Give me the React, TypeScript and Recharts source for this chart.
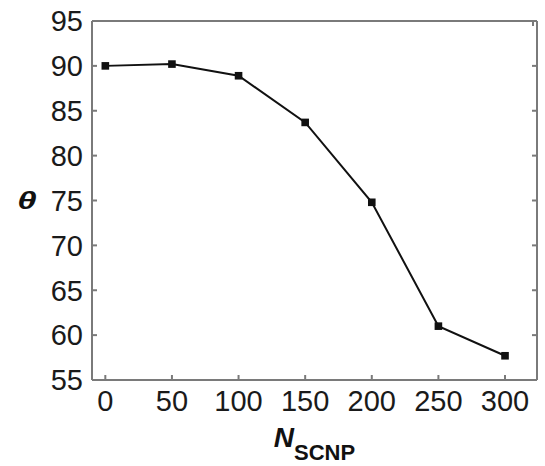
import React from 'react';
import { LineChart, Line, XAxis, YAxis, Label } from 'recharts';

// Contact angle θ versus number of SCNP
const nValues = [0, 50, 100, 150, 200, 250, 300];
const thetaValues = [90.0, 90.2, 88.9, 83.7, 74.8, 61.0, 57.7];
const xTicks = [0, 50, 100, 150, 200, 250, 300];
const yTicks = [55, 60, 65, 70, 75, 80, 85, 90, 95];

const data = nValues.map((n, i) => ({ n, theta: thetaValues[i] }));

const FONT = '"Liberation Sans", Arial, sans-serif';
const AXIS_COLOR = '#7a7a7a';
const TEXT_COLOR = '#1a1a1a';
const TICK_LEN = 5;
const LABEL_SIZE = 29;
const X_MARGIN = 10;
const Y_MARGIN = 9;

const axisLine = { stroke: AXIS_COLOR, strokeWidth: 2 };

// Inward tick marks, drawn from the position the axis hands to each tick
const BottomTick = (p: any) => {
  const axisY = p.y - X_MARGIN;
  return (
    <g>
      <line x1={p.x} x2={p.x} y1={axisY} y2={axisY - TICK_LEN} stroke={AXIS_COLOR} strokeWidth={2} />
      <text
        x={p.x}
        y={p.y}
        dy="0.71em"
        textAnchor="middle"
        fontFamily={FONT}
        fontSize={LABEL_SIZE}
        fill={TEXT_COLOR}
      >
        {p.payload.value}
      </text>
    </g>
  );
};

const LeftTick = (p: any) => {
  const axisX = p.x + Y_MARGIN;
  return (
    <g>
      <line x1={axisX} x2={axisX + TICK_LEN} y1={p.y} y2={p.y} stroke={AXIS_COLOR} strokeWidth={2} />
      <text
        x={p.x}
        y={p.y}
        dy="0.355em"
        textAnchor="end"
        fontFamily={FONT}
        fontSize={LABEL_SIZE}
        fill={TEXT_COLOR}
      >
        {p.payload.value}
      </text>
    </g>
  );
};

const TopTick = (p: any) => (
  <line x1={p.x} x2={p.x} y1={p.y} y2={p.y + TICK_LEN} stroke={AXIS_COLOR} strokeWidth={2} />
);

const RightTick = (p: any) => (
  <line x1={p.x} x2={p.x - TICK_LEN} y1={p.y} y2={p.y} stroke={AXIS_COLOR} strokeWidth={2} />
);

const SquareDot = (p: any) => (
  <rect
    key={`dot-${p.index}`}
    x={p.cx - 3.8}
    y={p.cy - 3.8}
    width={7.6}
    height={7.6}
    fill="#111"
  />
);

const XTitle = (props: any) => {
  const { viewBox } = props;
  const cx = viewBox.x + viewBox.width / 2;
  return (
    <text
      x={cx}
      y={viewBox.y + 67}
      textAnchor="middle"
      fontFamily={FONT}
      fontWeight="bold"
      fill="#111"
    >
      <tspan fontStyle="italic" fontSize={28}>N</tspan>
      <tspan fontSize={22} dy={13}>SCNP</tspan>
    </text>
  );
};

const YTitle = (props: any) => {
  const { viewBox } = props;
  const cy = viewBox.y + viewBox.height / 2;
  return (
    <text
      transform={`translate(27 ${cy}) scale(1.45 1)`}
      x={0}
      y={0}
      textAnchor="middle"
      dominantBaseline="central"
      fontFamily={FONT}
      fontWeight="bold"
      fontStyle="italic"
      fontSize={24}
      fill="#111"
    >
      θ
    </text>
  );
};

export default function App() {
  return (
    <div style={{ position: 'absolute', left: 0, top: 0, background: '#fff' }}>
      <LineChart
        width={545}
        height={466}
        data={data}
        margin={{ top: 20, right: 7, bottom: 0, left: 0 }}
      >
        <XAxis
          dataKey="n"
          type="number"
          domain={[-10, 324]}
          allowDataOverflow
          ticks={xTicks}
          height={86}
          tickSize={0}
          tickMargin={X_MARGIN}
          tick={<BottomTick />}
          tickLine={false}
          axisLine={axisLine}
          label={<Label content={<XTitle />} />}
        />
        <XAxis
          xAxisId="top"
          orientation="top"
          type="number"
          domain={[-10, 324]}
          allowDataOverflow
          ticks={xTicks}
          height={1}
          tickSize={0}
          tickMargin={0}
          tick={<TopTick />}
          tickLine={false}
          axisLine={axisLine}
        />
        <YAxis
          type="number"
          domain={[55, 95]}
          allowDataOverflow
          ticks={yTicks}
          width={92}
          tickSize={0}
          tickMargin={Y_MARGIN}
          tick={<LeftTick />}
          tickLine={false}
          axisLine={axisLine}
          label={<Label content={<YTitle />} />}
        />
        <YAxis
          yAxisId="right"
          orientation="right"
          type="number"
          domain={[55, 95]}
          allowDataOverflow
          ticks={yTicks}
          width={1}
          tickSize={0}
          tickMargin={0}
          tick={<RightTick />}
          tickLine={false}
          axisLine={axisLine}
        />
        <Line
          dataKey="theta"
          stroke="#111"
          strokeWidth={2}
          dot={SquareDot}
          activeDot={false}
          isAnimationActive={false}
        />
      </LineChart>
    </div>
  );
}
